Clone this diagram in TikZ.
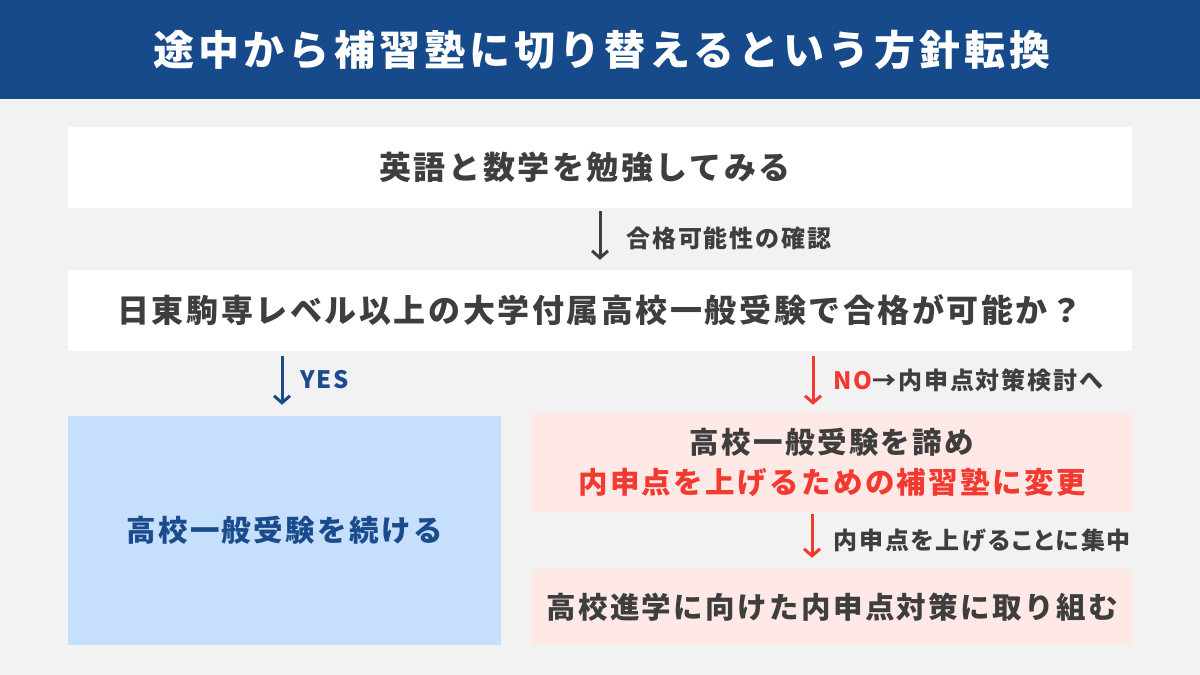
\documentclass[tikz,border=0pt]{standalone}
\usepackage{fontspec}
\setmainfont{Noto Sans CJK JP}
\newfontfamily\titlefont{Noto Sans CJK JP}[LetterSpace=10]
\newfontfamily\boxfont{Noto Sans CJK JP}[LetterSpace=8]
\newfontfamily\lblfont{Noto Sans CJK JP}[LetterSpace=8,RawFeature=+palt]
\usetikzlibrary{arrows.meta}
\definecolor{bg}{HTML}{F2F2F2}
\definecolor{titleblue}{HTML}{174A8B}
\definecolor{lightblue}{HTML}{C5DFFD}
\definecolor{pinkbg}{HTML}{FFE9E7}
\definecolor{redtxt}{HTML}{F23A30}
\definecolor{darktxt}{HTML}{3E3E3E}
\definecolor{bluetxt}{HTML}{1B4B8C}
\tikzset{
  box/.style={fill=white, draw=none, inner sep=0pt, align=center, text=darktxt, font=\boxfont\fontsize{32}{40}\selectfont\bfseries},
  yesbox/.style={fill=lightblue, draw=none, inner sep=0pt, align=center, text=bluetxt, font=\boxfont\fontsize{29.5}{38}\selectfont\bfseries},
  nobox/.style={fill=pinkbg, draw=none, inner sep=0pt, align=center, text=darktxt, font=\boxfont\fontsize{29.5}{40}\selectfont\bfseries},
  lbl/.style={anchor=west, inner sep=0pt, text=darktxt, font=\lblfont\fontsize{24}{28}\selectfont\bfseries},
  arr/.style={line width=3pt, -{Straight Barb[length=7pt,width=16pt,line width=3pt]}},
}
\begin{document}
\begin{tikzpicture}[x=1pt,y=-1pt]
\fill[bg] (0,0) rectangle (1200,675);
\useasboundingbox (0,0) rectangle (1200,675);
\fill[titleblue] (0,0) rectangle (1200,99);
\node[text=white, font=\titlefont\fontsize{41}{48}\selectfont\bfseries, inner sep=0pt] (title) at (602,50) {途中から補習塾に切り替えるという方針転換};
\node[box, minimum width=1064pt, minimum height=81pt] (b1) at (600,167.5) {英語と数学を勉強してみる\hspace*{30pt}};
\node[box, minimum width=1064pt, minimum height=81pt] (b2) at (600,310.5) {日東駒専レベル以上の大学付属高校一般受験で合格が可能か？};
\node[yesbox, minimum width=433pt, minimum height=229pt] (l) at (284.5,530.5) {高校一般受験を続ける};
\node[nobox, minimum width=600pt, minimum height=99pt] (r1) at (832,462.5) {高校一般受験を諦め\\\textcolor{redtxt}{内申点を上げるための補習塾に変更}};
\node[nobox, minimum width=600pt, minimum height=76pt] (r2) at (832,607) {高校進学に向けた内申点対策に取り組む};
\draw[arr, draw=darktxt, shorten <=3pt, shorten >=10pt] (b1.south) -- (b2.north);
\node[lbl] (lab1) at (626,238) {合格可能性の確認};
\draw[arr, draw=bluetxt, shorten <=5pt, shorten >=11pt] ([xshift=-2.5pt]b2.south -| l.north) -- ([xshift=-2.5pt]l.north);
\node[lbl, text=bluetxt] (lyes) at (300,380) {YES};
\draw[arr, draw=redtxt, shorten <=5pt, shorten >=8pt] ([xshift=-19pt]b2.south -| r1.north) -- ([xshift=-19pt]r1.north);
\node[lbl] (lno) at (833,380) {\textcolor{redtxt}{NO}→内申点対策検討へ};
\draw[arr, draw=redtxt, shorten <=2pt, shorten >=11pt] ([xshift=-20pt]r1.south) -- ([xshift=-20pt]r2.north);
\node[lbl] (lfocus) at (833,541) {内申点を上げることに集中};
\end{tikzpicture}
\end{document}
